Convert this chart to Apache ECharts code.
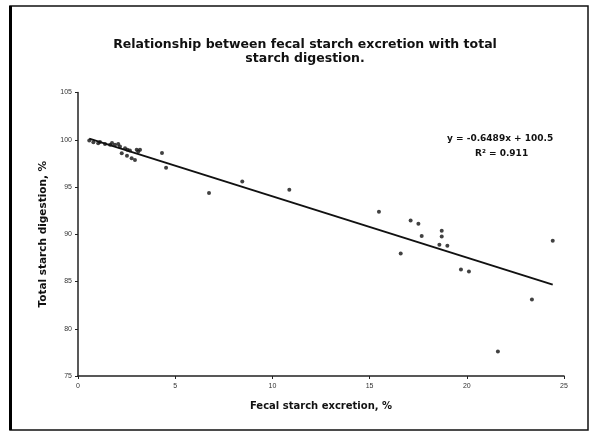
<!DOCTYPE html>
<html><head><meta charset="utf-8">
<script src="https://cdn.jsdelivr.net/npm/echarts@6/dist/echarts.min.js"></script>
<style>html,body{margin:0;padding:0;background:#fff}#c{width:592px;height:435px}</style>
</head><body><div id="c"></div>
<script>
const titleLines = ["Relationship between fecal starch excretion with total", "starch digestion."];
const xTitle = "Fecal starch excretion, %";
const yTitle = "Total starch digestion, %";
const equationText = "y = -0.6489x + 100.5";
const r2Text = "R\u00B2 = 0.911";

const fecalStarch = [0.58,0.79,1.04,1.13,1.39,1.65,1.75,1.90,2.07,2.16,2.25,2.42,2.52,2.54,2.67,2.76,2.93,3.02,3.10,3.19,
  4.32,4.53,6.74,8.45,10.87,15.48,16.6,17.11,17.51,17.68,18.59,18.71,18.71,19.0,19.70,20.11,21.6,23.35,24.42];
const totalDigestion = [99.91,99.74,99.64,99.77,99.56,99.46,99.65,99.46,99.56,99.28,98.58,99.11,98.30,98.93,98.85,98.05,97.87,98.93,98.75,98.93,
  98.61,97.03,94.36,95.58,94.70,92.38,87.95,91.46,91.11,89.82,88.90,90.37,89.77,88.79,86.26,86.05,77.6,83.09,89.32];
const trendX = [0.58, 24.42];
const trendY = [100.12, 84.67];

const xMin = 0, xMax = 25, xStep = 5;
const yMin = 75, yMax = 105, yStep = 5;

const chart = echarts.init(document.getElementById('c'), null, {renderer:'canvas'});
const font = 'Liberation Sans, Arial, sans-serif';
const bfont = 'DejaVu Sans, Verdana, sans-serif';
chart.setOption({
  backgroundColor:'#fff',
  animation:false,
  title:{
    text: titleLines.join('\n'), left: 300, top: 33, textAlign:'center',
    textStyle:{fontFamily:bfont, fontWeight:'bold', fontSize:12.5, color:'#111', lineHeight:14}
  },
  grid:{left:78, right:28, top:92.5, bottom:59},
  xAxis:{
    type:'value', min:xMin, max:xMax, interval:xStep,
    name:xTitle, nameLocation:'middle', nameGap:25,
    nameTextStyle:{fontFamily:bfont, fontWeight:'bold', fontSize:10, color:'#111'},
    axisLine:{show:true, lineStyle:{color:'#222', width:1.5}},
    axisTick:{show:true, length:3, lineStyle:{color:'#222'}},
    axisLabel:{fontFamily:font, fontSize:7, color:'#333', margin:7},
    splitLine:{show:false}
  },
  yAxis:{
    type:'value', min:yMin, max:yMax, interval:yStep,
    name:yTitle, nameLocation:'middle', nameGap:29, nameRotate:90,
    nameTextStyle:{fontFamily:bfont, fontWeight:'bold', fontSize:10.5, color:'#111'},
    axisLine:{show:true, lineStyle:{color:'#222', width:1.5}},
    axisTick:{show:true, length:3, lineStyle:{color:'#222'}},
    axisLabel:{fontFamily:font, fontSize:7, color:'#333', margin:6},
    splitLine:{show:false}
  },
  series:[
    {type:'line', data: trendX.map((x,i)=>[x, trendY[i]]), symbol:'none',
     lineStyle:{color:'#111', width:2}, z:2, silent:true},
    {type:'scatter', data: fecalStarch.map((x,i)=>[x, totalDigestion[i]]),
     symbol:'circle', symbolSize:4, itemStyle:{color:'#111'}, z:3}
  ],
  graphic:[
    {type:'rect', shape:{x:10, y:6, width:578, height:424}, style:{fill:'none', stroke:'#111', lineWidth:1.5}, z:-1},
    {type:'line', shape:{x1:10.5, y1:6, x2:10.5, y2:430}, style:{stroke:'#000', lineWidth:3}},
    {type:'text', left:447, top:134, style:{text:equationText, font:'bold 9px '+bfont, fill:'#111'}},
    {type:'text', left:475, top:149, style:{text:r2Text, font:'bold 9px '+bfont, fill:'#111'}}
  ]
});
</script></body></html>
